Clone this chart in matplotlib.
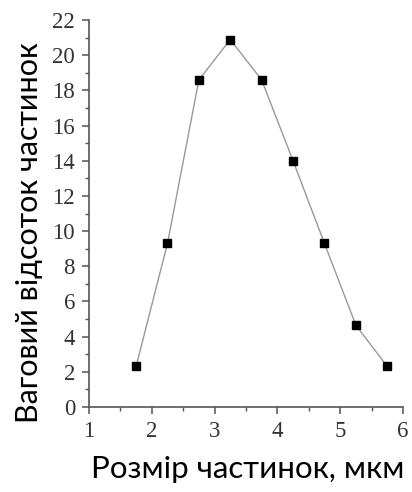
import numpy as np
import matplotlib
matplotlib.use('Agg')
import matplotlib.pyplot as plt
from matplotlib.ticker import MultipleLocator

size_um = [1.75, 2.25, 2.75, 3.25, 3.75, 4.25, 4.75, 5.25, 5.75]
weight_pct = [2.3, 9.3, 18.6, 20.9, 18.6, 14.0, 9.3, 4.65, 2.3]

fig = plt.figure(figsize=(4.12, 4.92), dpi=100)
ax = fig.add_axes([0.216, 0.173, 0.762, 0.786])

ax.plot(size_um, weight_pct, color='#999999', linewidth=1.0,
        marker='s', markersize=5.5, markerfacecolor='black',
        markeredgecolor='black', zorder=3)

ax.set_xlim(1, 6)
ax.set_ylim(0, 22)
ax.xaxis.set_major_locator(MultipleLocator(1))
ax.xaxis.set_minor_locator(MultipleLocator(0.5))
ax.yaxis.set_major_locator(MultipleLocator(2))
ax.yaxis.set_minor_locator(MultipleLocator(1))

for side in ['top', 'right']:
    ax.spines[side].set_visible(False)
for side in ['left', 'bottom']:
    ax.spines[side].set_color('#555555')
    ax.spines[side].set_linewidth(1.2)

ax.tick_params(which='major', direction='out', length=5, width=1.1,
               color='#555555', pad=5)
ax.tick_params(which='minor', direction='out', length=3, width=1.0, color='#555555')
for lab in ax.get_xticklabels() + ax.get_yticklabels():
    lab.set_family('Liberation Serif')
    lab.set_fontsize(16.5)
    lab.set_color('#333333')

ax.set_xlabel('Розмір частинок, мкм', family='Lato', fontsize=22.5)
ax.set_ylabel('Ваговий відсоток частинок', family='Lato', fontsize=22)
ax.xaxis.set_label_coords(0.506, -0.125)
ax.yaxis.set_label_coords(-0.145, 0.45)

fig.savefig('out.png', dpi=100, facecolor='white')
